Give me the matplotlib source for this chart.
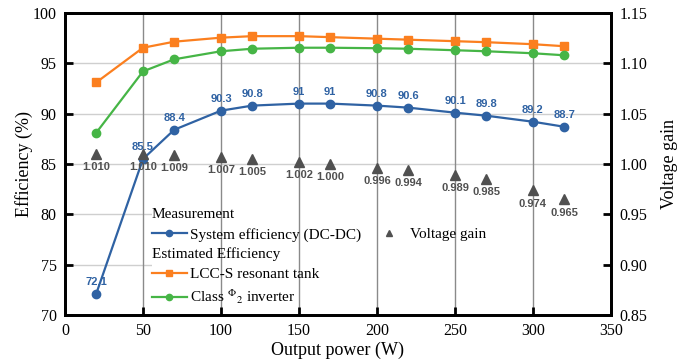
import matplotlib
matplotlib.use("Agg")
import matplotlib.pyplot as plt
from matplotlib.lines import Line2D
from matplotlib.patches import Rectangle
from matplotlib.transforms import ScaledTranslation

power = [20, 50, 70, 100, 120, 150, 170, 200, 220, 250, 270, 300, 320]
system_eff = [72.1, 85.5, 88.4, 90.3, 90.8, 91, 91, 90.8, 90.6, 90.1, 89.8, 89.2, 88.7]
lcc_eff = [93.1, 96.55, 97.15, 97.55, 97.7, 97.7, 97.6, 97.45, 97.35, 97.2, 97.1, 96.9, 96.7]
phi2_eff = [88.1, 94.2, 95.4, 96.2, 96.45, 96.55, 96.55, 96.5, 96.45, 96.3, 96.2, 96.0, 95.8]
gain = [1.010, 1.010, 1.009, 1.007, 1.005, 1.002, 1.000, 0.996, 0.994, 0.989, 0.985, 0.974, 0.965]
eff_labels = ["72.1", "85.5", "88.4", "90.3", "90.8", "91", "91", "90.8", "90.6", "90.1", "89.8", "89.2", "88.7"]
gain_labels = ["1.010", "1.010", "1.009", "1.007", "1.005", "1.002", "1.000", "0.996", "0.994", "0.989", "0.985", "0.974", "0.965"]

BLUE = "#2f62a3"
ORANGE = "#fb7f1f"
GREEN = "#46b546"
GRAY = "#505050"

plt.rcParams["mathtext.fontset"] = "stix"
serif = "Liberation Serif"
sans = "Liberation Sans"

fig = plt.figure(figsize=(6.88, 3.64), dpi=100)
ax = fig.add_axes([65/688, 1 - 315/364, 546/688, 302/364])
ax2 = ax.twinx()

ax.set_xlim(0, 350)
ax.set_ylim(70, 100)
ax2.set_ylim(0.85, 1.15)

for y in [75, 80, 85, 90, 95]:
    ax.axhline(y, color="#cfcfcf", lw=1.0, zorder=0)
# white legend background (hides horizontal grid lines)
ax.add_patch(Rectangle((0.159, 0.0), 0.841, 0.34, transform=ax.transAxes,
                       facecolor="white", edgecolor="none", zorder=0.5))
for x in [50, 100, 150, 200, 250, 300]:
    ax.axvline(x, color="#8a8a8a", lw=1.0, zorder=1)

l1, = ax.plot(power, system_eff, color=BLUE, marker="o", ms=6, lw=1.6, zorder=3)
l2, = ax.plot(power, lcc_eff, color=ORANGE, marker="s", ms=5.5, lw=1.6, zorder=3)
l3, = ax.plot(power, phi2_eff, color=GREEN, marker="o", ms=6, lw=1.6, zorder=3)
l4, = ax2.plot(power, gain, linestyle="none", marker="^", ms=6.5, color=GRAY, zorder=3)

for x, y, t in zip(power, system_eff, eff_labels):
    ax.annotate(t, (x, y), xytext=(0, 5), textcoords="offset points", ha="center", va="bottom",
                fontsize=8, fontweight="bold", color=BLUE, family=sans, zorder=4)
for x, y, t in zip(power, gain, gain_labels):
    ax2.annotate(t, (x, y), xytext=(0, -6), textcoords="offset points", ha="center", va="top",
                 fontsize=8, fontweight="bold", color=GRAY, family=sans, zorder=4)

for a in (ax, ax2):
    for s in a.spines.values():
        s.set_linewidth(2)
ax.set_xticks(range(0, 351, 50))
ax.set_yticks(range(70, 101, 5))
ax2.set_yticks([0.85, 0.90, 0.95, 1.00, 1.05, 1.10, 1.15])
ax2.set_yticklabels(["0.85", "0.90", "0.95", "1.00", "1.05", "1.10", "1.15"])
ax.tick_params(axis="both", direction="in", length=6, width=2, labelsize=11.5, pad=6)
ax2.tick_params(axis="y", direction="in", length=6, width=2, labelsize=11.5, pad=6)
for lab in ax.get_xticklabels() + ax.get_yticklabels() + ax2.get_yticklabels():
    lab.set_family(serif)

ax.set_xlabel("Output power (W)", family=serif, fontsize=13, labelpad=2)
ax.set_ylabel("Efficiency (%)", family=serif, fontsize=13, labelpad=0)
ax2.set_ylabel("Voltage gain", family=serif, fontsize=13, labelpad=10)

blank = Line2D([], [], linestyle="none", marker=None)
h1 = Line2D([], [], color=BLUE, marker="o", ms=4.5, lw=1.6)
h2 = Line2D([], [], color=ORANGE, marker="s", ms=4.5, lw=1.6)
h3 = Line2D([], [], color=GREEN, marker="o", ms=4.5, lw=1.6)
h4 = Line2D([], [], linestyle="none", marker="^", ms=5, color=GRAY)
handles = [blank, h1, blank, h2, h3, blank, h4, blank, blank, blank]
labels = ["Measurement", "System efficiency (DC-DC)", "Estimated Efficiency",
          "LCC-S resonant tank", r"Class ${}^{\Phi}{}_{2}$ inverter", "", "Voltage gain", "", "", ""]
FS = 11
HL, HTP = 2.3, 0.2
leg = ax2.legend(handles, labels, ncol=2, loc="upper left", bbox_to_anchor=(0.159, 0.355),
                 frameon=False, prop={"family": serif, "size": FS}, handlelength=HL,
                 handletextpad=HTP, labelspacing=0.40, columnspacing=0.7, borderaxespad=0,
                 borderpad=0)
shift = -(HL + HTP) * FS / 72
for i in (0, 2):
    t = leg.get_texts()[i]
    t.set_transform(t.get_transform() + ScaledTranslation(shift, 0, fig.dpi_scale_trans))

fig.savefig("out.png", dpi=100)
